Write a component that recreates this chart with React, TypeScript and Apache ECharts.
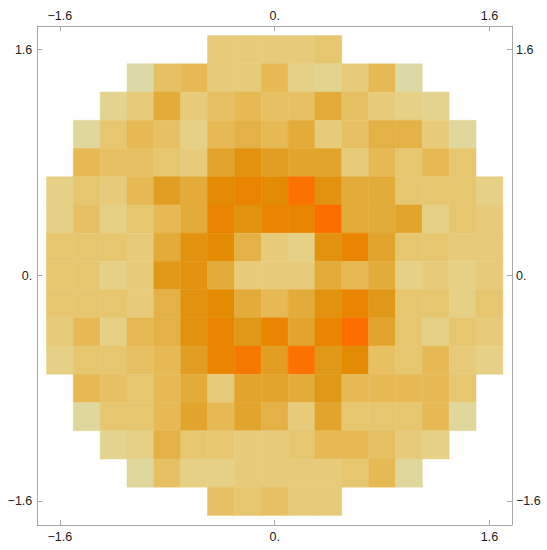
import React, { useEffect, useRef } from "react";
import * as echarts from "echarts";

// Cell centres along each axis
const xValues = [-1.6, -1.4, -1.2, -1.0, -0.8, -0.6, -0.4, -0.2, 0, 0.2, 0.4, 0.6, 0.8, 1.0, 1.2, 1.4, 1.6];
const yValues = [1.6, 1.4, 1.2, 1.0, 0.8, 0.6, 0.4, 0.2, 0, -0.2, -0.4, -0.6, -0.8, -1.0, -1.2, -1.4, -1.6];

const N = null;
// Intensity per cell (rows top to bottom, columns left to right), null = no data
const row0 = [N, N, N, N, N, N, 2, 2, 2, 2, 2.5, N, N, N, N, N, N];
const row1 = [N, N, N, 0, 3, 3.5, 2, 2, 3.5, 1.5, 1, 2, 3.5, 0, N, N, N];
const row2 = [N, N, 1, 2, 4.5, 2, 3, 3.5, 3, 3, 4.5, 3, 2, 1.5, 1, N, N];
const row3 = [N, 0.5, 2.5, 3.5, 3, 1.5, 3.5, 4, 3.5, 4.5, 2, 3, 4, 4, 2, 0.5, N];
const row4 = [N, 3.5, 3, 3, 2.5, 2, 5, 6.5, 5.5, 5, 5, 2, 3.5, 2.5, 3.5, 2.5, N];
const row5 = [1.5, 2.5, 2, 3.5, 5.5, 4.5, 7, 7.5, 7, 9, 6.5, 4.5, 4.5, 2.5, 2.5, 2.5, 1.5];
const row6 = [1.5, 3, 1.5, 2.5, 3.5, 4.5, 7.5, 6.5, 7.5, 7.5, 9.5, 4.5, 4.5, 5, 1.5, 2.5, 2];
const row7 = [2.5, 2.5, 2.5, 2, 4.5, 6.5, 7, 4, 2, 1.5, 6.5, 7.5, 5, 2.5, 2.5, 2, 2];
const row8 = [2.5, 2.5, 1.5, 2, 6, 6.5, 4.5, 2, 2, 2, 4.5, 3.5, 4.5, 1.5, 2, 1.5, 2];
const row9 = [2.5, 2.5, 2.5, 2, 4, 6.5, 7, 4.5, 3.5, 4.5, 6.5, 7.5, 6, 2.5, 2.5, 1.5, 2.5];
const row10 = [2, 3.5, 1.5, 3.5, 4, 6.5, 7.5, 6, 7.5, 5, 7.5, 9.5, 5, 2.5, 1.5, 2.5, 2];
const row11 = [1.5, 2.5, 2.5, 3, 3.5, 5.5, 7.5, 8.5, 5.5, 9, 6, 7, 3, 2.5, 3.5, 2, 1.5];
const row12 = [N, 3.5, 3, 2.5, 3.5, 4.5, 2, 5, 5, 4.5, 6, 3.5, 3.5, 3.5, 3.5, 2.5, N];
const row13 = [N, 0.5, 2.5, 2.5, 3.5, 5, 3.5, 5, 4, 2, 5, 2.5, 2.5, 2.5, 3.5, 0.5, N];
const row14 = [N, N, 1, 1.5, 4, 2.5, 2.5, 2, 2, 2.5, 3.5, 3.5, 3, 2, 1.5, N, N];
const row15 = [N, N, N, 0.5, 3, 1.5, 1.5, 2, 2, 2, 2, 2.5, 3.5, 0.5, N, N, N];
const row16 = [N, N, N, N, N, N, 3, 2.5, 3, 2, 2, N, N, N, N, N, N];

const rows = [row0, row1, row2, row3, row4, row5, row6, row7, row8, row9, row10, row11, row12, row13, row14, row15, row16];

const tickValues = [-1.6, 0, 1.6];
const tickLabels = ["\u22121.6", "0.", "1.6"];

const valueMax = 10;
const colorStops = [
  "#dcd9a6",
  "#e2d48f",
  "#e7cb7b",
  "#e7c064",
  "#e4b146",
  "#e2a42d",
  "#e09818",
  "#e48b04",
  "#ef7f00",
  "#fb7200",
  "#ff6a00",
];

const cellHalf = 0.1;
const rangeMin = -1.768;
const rangeMax = 1.768;

export default function App() {
  const ref = useRef<HTMLDivElement>(null);

  useEffect(() => {
    if (!ref.current) return;
    const chart = echarts.init(ref.current, undefined, { renderer: "svg" });

    const data: number[][] = [];
    rows.forEach((row, j) => {
      row.forEach((v, i) => {
        if (v !== null && v !== undefined) data.push([xValues[i], yValues[j], v as number]);
      });
    });

    const fmt = (val: number) => {
      const idx = tickValues.findIndex((t) => Math.abs(t - val) < 1e-6);
      return idx >= 0 ? tickLabels[idx] : "";
    };

    const frameColor = "#a9a9a9";
    const labelStyle = {
      color: "#222",
      fontFamily: "Liberation Sans, Arial, sans-serif",
      fontSize: 12.5,
    };

    const makeAxis = (position: string, margin: number) => ({
      type: "value",
      position,
      min: rangeMin,
      max: rangeMax,
      axisLine: { show: true, onZero: false, lineStyle: { color: frameColor, width: 1 } },
      axisTick: {
        show: true,
        inside: true,
        length: 5,
        customValues: tickValues,
        lineStyle: { color: frameColor, width: 1 },
      },
      axisLabel: {
        show: true,
        customValues: tickValues,
        formatter: fmt,
        margin,
        ...labelStyle,
      },
      splitLine: { show: false },
    });

    chart.setOption({
      animation: false,
      backgroundColor: "#ffffff",
      grid: { left: 37.3, top: 26, width: 474.7, height: 499, containLabel: false },
      xAxis: [makeAxis("bottom", 5), makeAxis("top", 4)],
      yAxis: [makeAxis("left", 5), makeAxis("right", 4)],
      series: [
        {
          type: "custom",
          xAxisIndex: 0,
          yAxisIndex: 0,
          data,
          renderItem: (params: any, api: any) => {
            const x = api.value(0);
            const y = api.value(1);
            const v = api.value(2);
            const p1 = api.coord([x - cellHalf, y + cellHalf]);
            const p2 = api.coord([x + cellHalf, y - cellHalf]);
            const fill = echarts.color.lerp(Math.max(0, Math.min(1, v / valueMax)), colorStops);
            return {
              type: "rect",
              shape: { x: p1[0], y: p1[1], width: p2[0] - p1[0], height: p2[1] - p1[1] },
              style: { fill, stroke: fill, lineWidth: 0.5 },
            };
          },
        },
      ],
    });

    return () => chart.dispose();
  }, []);

  return (
    <div
      ref={ref}
      style={{ position: "absolute", left: 0, top: 0, width: 547, height: 550 }}
    />
  );
}
